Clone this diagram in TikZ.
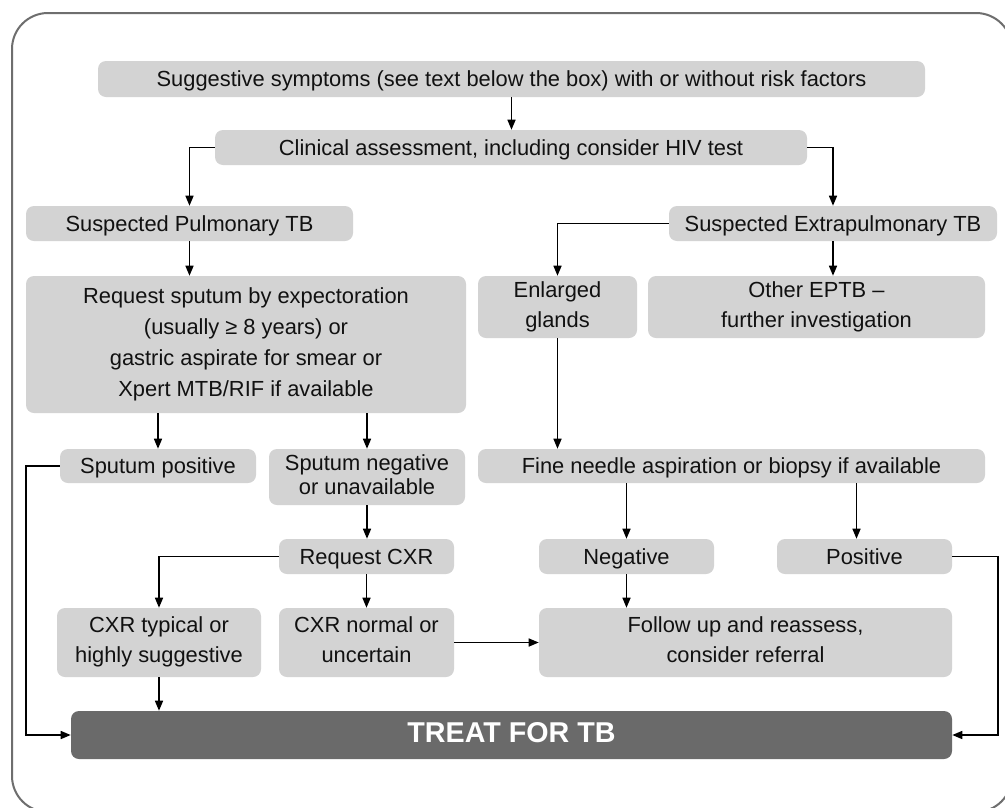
\documentclass[tikz,border=0pt]{standalone}
\usepackage{fontspec}
\setmainfont{Liberation Sans}
\usetikzlibrary{arrows.meta}
\definecolor{boxfill}{HTML}{D3D3D3}
\definecolor{treatfill}{HTML}{6A6A6A}
\definecolor{framecol}{HTML}{6E6E6E}
\definecolor{txt}{HTML}{111111}
% invisible rule that gives every line the same height and depth
\newcommand\bxstrut{\rule[-4pt]{0pt}{19.8pt}}
\tikzset{
  bx/.style 2 args={draw=none, fill=boxfill, rounded corners=6pt, inner sep=0pt,
    minimum width=#1*0.75pt, minimum height=#2*0.75pt, align=center,
    text=txt, font=\fontsize{16.4}{22.5}\selectfont,
    execute at begin node=\bxstrut, execute at end node=\bxstrut},
  treatbox/.style 2 args={bx={#1}{#2}, fill=treatfill, text=white,
    font=\fontsize{21.5}{25}\selectfont\bfseries},
  arr/.style={draw=black, line width=1.1pt,
    -{Triangle[length=7.5pt,width=6pt]}},
  frame/.style={draw=framecol, line width=1.5pt, rounded corners=27pt}
}
\begin{document}
\begin{tikzpicture}[x=0.75pt,y=-0.75pt]
\useasboundingbox (0,0) rectangle (1005,807);
\clip (0,0) rectangle (1005,807);
\fill[white] (0,0) rectangle (1005,807);
\draw[frame] (12,13) rectangle (1012,812);

% boxes
\node[bx={827}{36}] (sym) at (511.5,79) {Suggestive symptoms (see text below the box) with or without risk factors};
\node[bx={592}{35}] (clin) at (511,147.5) {Clinical assessment, including consider HIV test};
\node[bx={327}{35}] (pulm) at (189.5,223.5) {Suspected Pulmonary TB};
\node[bx={328}{35}] (extra) at (833,223.5) {Suspected Extrapulmonary TB};
\node[bx={440}{137}, font=\fontsize{16.4}{23.3}\selectfont] (req) at (246,344.5) {Request sputum by expectoration\\(usually ≥ 8 years) or\\gastric aspirate for smear or\\Xpert MTB/RIF if available};
\node[bx={159}{62}] (glands) at (557.5,307) {Enlarged\\glands};
\node[bx={337}{62}] (other) at (816.5,307) {Other EPTB –\\further investigation};
\node[bx={196}{34}] (spos) at (158,466) {Sputum positive};
\node[bx={196}{56}, font=\fontsize{16.4}{18}\selectfont] (sneg) at (367,477) {Sputum negative\\or unavailable};
\node[bx={507}{34}] (fna) at (731.5,466) {Fine needle aspiration or biopsy if available};
\node[bx={175}{35}] (neg) at (626.5,556.5) {Negative};
\node[bx={175}{35}] (pos) at (864.5,556.5) {Positive};
\node[bx={175}{35}] (rcxr) at (366.5,556.5) {Request CXR};
\node[bx={204}{69}] (cxrt) at (159,642.5) {CXR typical or\\highly suggestive};
\node[bx={175}{69}] (cxrn) at (366.5,642.5) {CXR normal or\\uncertain};
\node[bx={413}{69}] (fol) at (745.5,642.5) {Follow up and reassess,\\consider referral};
\node[treatbox={881}{48}] (treat) at (511.5,735) {TREAT FOR TB};

% side rails for the long connectors
\coordinate (lrail) at (26,0);
\coordinate (rrail) at (998,0);

% connectors
\draw[arr] (sym.south) -- (sym.south |- clin.north);
\draw[arr] (clin.west) -| (pulm.north);
\draw[arr] (clin.east) -| (extra.north);
\draw[arr] (pulm.south) -- (pulm.south |- req.north);
\draw[arr] (extra.west) -| (glands.north);
\draw[arr] (extra.south) -- (extra.south |- other.north);
\draw[arr] (spos.north |- req.south) -- (spos.north);
\draw[arr] (sneg.north |- req.south) -- (sneg.north);
\draw[arr] (glands.south) -- (glands.south |- fna.north);
\draw[arr] (neg.north |- fna.south) -- (neg.north);
\draw[arr] ([xshift=-6pt]pos.north |- fna.south) -- ([xshift=-6pt]pos.north);
\draw[arr] (sneg.south) -- (sneg.south |- rcxr.north);
\draw[arr] (rcxr.west) -| (cxrt.north);
\draw[arr] (rcxr.south) -- (rcxr.south |- cxrn.north);
\draw[arr] (cxrn.east) -- (cxrn.east -| fol.west);
\draw[arr] (neg.south) -- (neg.south |- fol.north);
\draw[arr] (cxrt.south) -- (cxrt.south |- treat.north);
\draw[arr] (spos.west) -- (spos.west -| lrail) |- (treat.west);
\draw[arr] (pos.east) -- (pos.east -| rrail) |- (treat.east);
\end{tikzpicture}
\end{document}
